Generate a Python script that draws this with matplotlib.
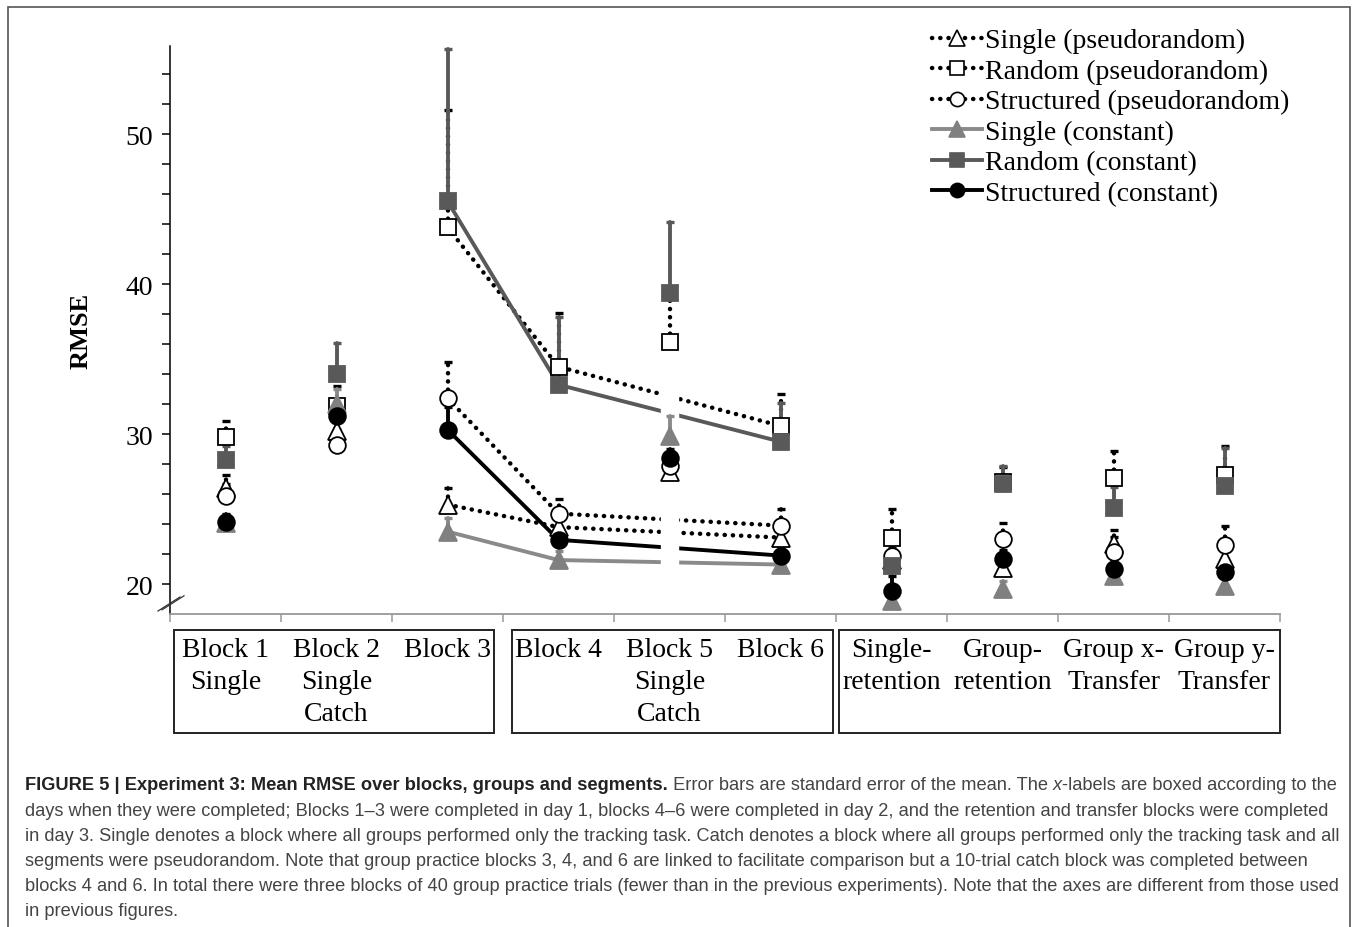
import numpy as np
import matplotlib
matplotlib.use("Agg")
import matplotlib.pyplot as plt
from matplotlib.patches import Rectangle
from matplotlib.lines import Line2D

# categories along the x axis (boxed by day)
categories = ["Block 1\nSingle", "Block 2\nSingle\nCatch", "Block 3",
              "Block 4", "Block 5\nSingle\nCatch", "Block 6",
              "Single-\nretention", "Group-\nretention",
              "Group x-\nTransfer", "Group y-\nTransfer"]

# mean RMSE and (upper) standard error per group
single_pseudo = [26.4, 30.2, 25.3, 23.8, 27.5, 23.1, 21.6, 21.1, 22.7, 21.7]
single_pseudo_err = [0.9, 1.0, 1.1, 0.8, 0.8, 0.8, 0.8, 0.7, 0.9, 0.9]
random_pseudo = [29.8, 31.9, 43.8, 34.5, 36.15, 30.55, 23.1, 26.8, 27.05, 27.3]
random_pseudo_err = [1.1, 1.3, 7.8, 3.6, 3.3, 2.15, 1.9, 1.0, 1.85, 1.9]
struct_pseudo = [25.9, 29.3, 32.4, 24.7, 27.9, 23.9, 21.9, 23.0, 22.15, 22.6]
struct_pseudo_err = [0.8, 1.0, 2.4, 1.0, 0.8, 1.1, 0.9, 1.07, 1.0, 1.3]
single_const = [24.1, 32.0, 23.5, 21.6, 29.9, 21.3, 18.9, 19.7, 20.55, 19.9]
single_const_err = [0.5, 1.0, 0.9, 0.6, 1.3, 0.5, 0.5, 0.5, 0.5, 0.5]
random_const = [28.3, 34.0, 45.55, 33.3, 39.45, 29.5, 21.2, 26.7, 25.05, 26.55]
random_const_err = [0.9, 2.1, 10.15, 4.5, 4.7, 2.6, 1.0, 1.2, 1.4, 2.5]
struct_const = [24.15, 31.2, 30.3, 22.95, 28.4, 21.9, 19.55, 21.7, 21.0, 20.8]
struct_const_err = [0.5, 1.0, 1.5, 0.6, 0.6, 0.5, 1.0, 0.6, 0.6, 0.6]

# group practice blocks 3, 4 and 6 are linked
linked = [2, 3, 5]

SERIF = "Liberation Serif"
SANS = "Liberation Sans"
W, H = 1358, 928

fig = plt.figure(figsize=(W / 100, H / 100), dpi=100)
ax = fig.add_axes([170 / W, 1 - 615 / H, 1110 / W, 568 / H])

x = np.arange(len(categories))
n = len(categories)

DOT = (0, (0.05, 1.8))
series = [
    ("Single (pseudorandom)", single_pseudo, single_pseudo_err, "^", "white", "black", "black", DOT, 13),
    ("Random (pseudorandom)", random_pseudo, random_pseudo_err, "s", "white", "black", "black", DOT, 12),
    ("Structured (pseudorandom)", struct_pseudo, struct_pseudo_err, "o", "white", "black", "black", DOT, 12),
    ("Single (constant)", single_const, single_const_err, "^", "#808080", "#808080", "#8a8a8a", "-", 13),
    ("Random (constant)", random_const, random_const_err, "s", "#595959", "#595959", "#595959", "-", 12),
    ("Structured (constant)", struct_const, struct_const_err, "o", "black", "black", "black", "-", 12),
]

handles = []
for label, vals, err, mk, fc, ec, lc, ls, ms in series:
    vals = np.array(vals)
    lw = 3.2 if ls == DOT else 2.8
    eb = ax.errorbar(x, vals, yerr=[np.zeros(n), err], fmt="none", ecolor=lc,
                     elinewidth=lw, capsize=3, capthick=2.4, zorder=3)
    eb[2][0].set_linestyle(ls)
    eb[2][0].set_capstyle("round")
    ax.plot(x[linked], vals[linked], color=lc, ls=ls, lw=lw,
            dash_capstyle="round", solid_capstyle="butt", zorder=2)
    ax.plot(x, vals, ls="none", marker=mk, ms=ms, mfc=fc, mec=ec,
            mew=1.3, zorder=4)
    handles.append(Line2D([], [], color=lc, ls=ls, lw=lw, marker=mk,
                          ms=ms * 0.85, mfc=fc, mec=ec, mew=1.2,
                          dash_capstyle="round"))

# break in the linked lines where the catch block sits
ax.axvspan(4 - 0.075, 4 + 0.075, color="white", zorder=2.5)

ax.set_xlim(-0.5, 9.5)
ax.set_ylim(18, 55.9)
ax.set_yticks([20, 30, 40, 50])
ax.set_yticks(np.arange(20, 56, 2), minor=True)
ax.set_yticklabels(["20", "30", "40", "50"], family=SERIF, fontsize=20)
ax.tick_params(axis="y", which="both", direction="out", length=6, width=1.1,
               color="black", pad=6)
ax.set_xticks(np.arange(-0.5, 10, 1))
ax.set_xticklabels([])
ax.tick_params(axis="x", direction="out", length=6, width=1.1, color="#999999")
ax.spines["top"].set_visible(False)
ax.spines["right"].set_visible(False)
ax.spines["left"].set_linewidth(1.1)
ax.spines["bottom"].set_color("#999999")
ax.spines["bottom"].set_linewidth(1.3)
ax.set_ylabel("RMSE", family=SERIF, fontsize=19, fontweight="bold", labelpad=24)

# axis break mark
for off in (0, 4):
    fig.add_artist(Line2D([(158 + off) / W, (180 + off) / W],
                          [1 - (612 - off * 0.3) / H, 1 - (598 - off * 0.3) / H],
                          color="#333333", lw=0.9))

# category labels under the axis
for xi, lab in zip(x, categories):
    ax.text(xi, -0.04, lab, transform=ax.get_xaxis_transform(), ha="center",
            va="top", family=SERIF, fontsize=20, linespacing=1.38)

# day boxes
for x0, x1 in [(174, 494), (512, 833), (839, 1280)]:
    fig.add_artist(Rectangle((x0 / W, 1 - 734 / H), (x1 - x0) / W, 103 / H,
                             transform=fig.transFigure, fill=False,
                             ec="#222222", lw=1.4))

fig.legend(handles, [s[0] for s in series], loc="upper left",
           bbox_to_anchor=(932 / W, 1 - 29 / H), frameon=False,
           prop={"family": SERIF, "size": 20}, handlelength=1.8,
           handletextpad=0.12, labelspacing=0.18, borderpad=0,
           borderaxespad=0, numpoints=1)

# outer frame
fig.add_artist(Rectangle((8 / W, -0.05), 1342 / W, 1 - 8 / H + 0.05,
                         transform=fig.transFigure, fill=False,
                         ec="#555555", lw=1.2))

# caption
lines = [
    [("FIGURE 5 | Experiment 3: Mean RMSE over blocks, groups and segments.", "bold", "normal", "#222222"),
     (" Error bars are standard error of the mean. The ", "normal", "normal", "#444444"),
     ("x", "normal", "italic", "#444444"),
     ("-labels are boxed according to the", "normal", "normal", "#444444")],
    [("days when they were completed; Blocks 1\u20133 were completed in day 1, blocks 4\u20136 were completed in day 2, and the retention and transfer blocks were completed", "normal", "normal", "#444444")],
    [("in day 3. Single denotes a block where all groups performed only the tracking task. Catch denotes a block where all groups performed only the tracking task and all", "normal", "normal", "#444444")],
    [("segments were pseudorandom. Note that group practice blocks 3, 4, and 6 are linked to facilitate comparison but a 10-trial catch block was completed between", "normal", "normal", "#444444")],
    [("blocks 4 and 6. In total there were three blocks of 40 group practice trials (fewer than in the previous experiments). Note that the axes are different from those used", "normal", "normal", "#444444")],
    [("in previous figures.", "normal", "normal", "#444444")],
]
renderer = fig.canvas.get_renderer()
probe = fig.text(0, 0, lines[1][0][0], fontsize=12, family=SANS)
cap_size = 12 * 1305 / probe.get_window_extent(renderer).width
probe.remove()

for i, pieces in enumerate(lines):
    yy = 786 + i * 25.2
    xx = 25
    for txt, weight, style, color in pieces:
        t = fig.text(xx / W, 1 - yy / H, txt, fontsize=cap_size, family=SANS,
                     fontweight=weight, fontstyle=style, color=color,
                     ha="left", va="center")
        xx += t.get_window_extent(renderer).width

fig.savefig("out.png", dpi=100)
